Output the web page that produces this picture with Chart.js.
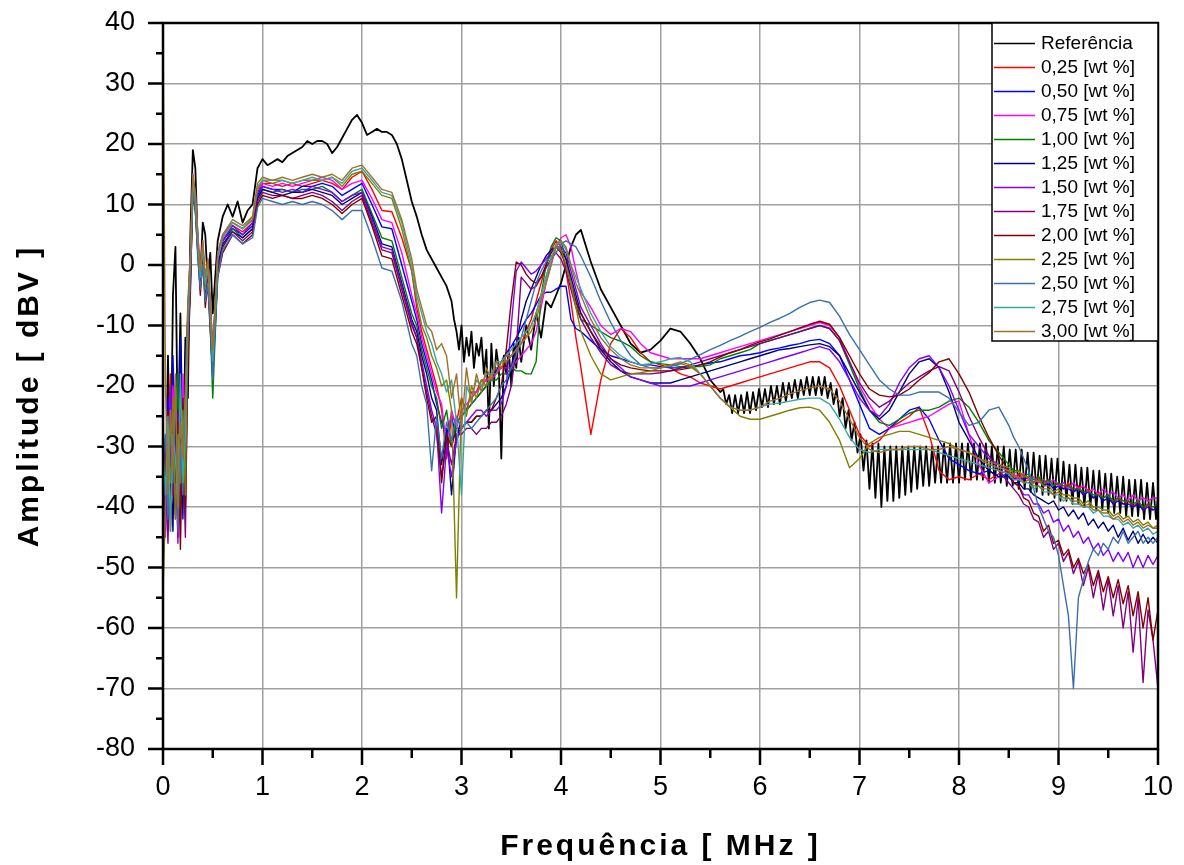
<!DOCTYPE html>
<html lang="pt">
<head>
  <meta charset="UTF-8">
  <title>Amplitude x Frequência</title>
  <script src="https://cdn.jsdelivr.net/npm/chart.js"></script>
  <style>
    body { margin: 0; background: #ffffff; }
    .chart-container { position: relative; width: 1184px; height: 865px; }
  </style>
</head>
<body>
<div class="chart-container"><canvas id="espectro"></canvas></div>
<script>
  // evenly spaced sampling frequencies (MHz)
  function seg(a, b, dx) {
    const out = [];
    for (let i = 0; a + i * dx <= b + 1e-9; i++) out.push(+(a + i * dx).toFixed(3));
    return out;
  }

  // shared frequency grid of the sample curves
  const freq = [].concat(
    seg(0, 0.5, 0.025), [0.55, 0.6, 0.7, 0.8, 0.9, 0.95, 1.0], seg(1.1, 2.5, 0.1),
    seg(2.55, 3.5, 0.05), seg(3.55, 4.2, 0.05), seg(4.3, 8.4, 0.1), seg(8.5, 10, 0.05)
  );

  // frequency grid of the reference curve
  const refFreq = [].concat(
    seg(0, 0.5, 0.025), seg(0.55, 1.0, 0.05), seg(1.05, 2.5, 0.05), seg(2.55, 2.9, 0.05),
    seg(2.925, 3.6, 0.025), seg(3.65, 4.2, 0.05), seg(4.3, 5.6, 0.1), seg(5.63, 9.98, 0.03), [10]
  );

  const refAmp = [
    -30, -40, -15, -38, -5, 3, -30, -8, -35, -12, -22, 5, 19, 16, 3, -2, 7, 5, -3, 2, -8,
    4, 8, 10, 8, 10.5, 7, 9, 10, 16, 17.5,
    16.5, 17, 17.5, 17, 18, 18.5, 19, 19.5, 20.5, 20, 20.5, 20.5, 20, 18.5, 19.5, 21, 22.5, 24, 24.8, 23.5,
    21.5, 22, 22.5, 22, 22, 21.5, 20, 17.5, 14, 10.5,
    8, 5, 2.5, 1, -0.5, -2, -3.5, -6,
    -9, -11, -14, -10, -16, -12, -15, -11, -17, -13, -15, -12, -18, -14, -27, -13, -20, -14, -17, -32,
    -15, -18, -14, -20, -13, -17, -12, -16,
    -10, -14, -8, -12, -6, -7, -5, -3, 0, 3, 5, 5.8,
    0.5, -4, -7, -10, -13, -14.5, -14, -12.5, -10.5, -11, -13, -15.5, -19, -21,
    -20.5, -23, -21.5, -24.5, -21.5, -24.5, -21.5, -24.5, -21, -24.5, -21, -24, -20.5, -23.5, -20.5, -23.5,
    -20, -23, -20, -23, -19.5, -22.5, -19.5, -22, -19, -22, -19, -21.5, -18.5, -21.5, -18.5, -21.5,
    -18.5, -21.5, -18.5, -22, -19.5, -23, -20.5, -25, -22, -27, -24, -29, -26, -31, -28, -34,
    -29, -37, -29.5, -38.5, -29.5, -40, -30, -39, -30, -39, -30, -38.5, -30, -38, -30, -37.5,
    -30, -37, -30, -36.5, -30, -36.5, -30, -36, -30, -36, -29.5, -36, -29.5, -36, -29.5, -36,
    -29.5, -35.5, -29.5, -35.5, -29.5, -35.5, -29.5, -35.5, -29.5, -36, -30, -36, -30, -36, -30, -36.5,
    -30.5, -36.5, -30.5, -37, -30.5, -37, -31, -37.5, -31, -37.5, -31.5, -38, -31.5, -38, -32, -38.5,
    -32, -39, -32.5, -39, -33, -39.5, -33, -39.5, -33.5, -40, -33.5, -40, -34, -40.5, -34, -40.5,
    -34.5, -41, -34.5, -41, -35, -41, -35, -41.5, -35.5, -41.5, -35.5, -41.5, -35.5, -42, -36, -42,
    -36, -42, -38
  ];

  const amp025 = [
    -35, -42, -28, -18, -38, -25, -45, -20, -30, -40, -10, -5, 14, 12, 4, -2, 3, -4, 1, -6, -14,
    1, 4, 6.5, 5.5, 7, 12, 13.5,
    13.5, 13, 13.5, 13, 13.5, 14, 13.5, 12.5, 14.5, 15.5, 12.5, 9, 8.8, 4.5, -1,
    -7, -11, -14, -17, -20, -24, -32, -25, -26, -22, -24, -21, -21, -19, -19, -18, -17, -17, -16, -15,
    -14, -13, -11, -9, -6, -3, 0, 2.5, 4, 3, -1, -6, -12, -17,
    -28, -19, -13, -10.5, -12, -14.5, -16, -16.5, -17, -18,
    -18.5, -19.5, -20, -20.5, -20, -19.5, -19, -18.5, -18, -17.5,
    -17, -16.5, -16, -16, -17, -20, -24, -28, -30, -29,
    -27, -26, -25, -23.5, -28, -34, -35.5, -35, -35.5, -34.5, -35.5, -34.5,
    -34, -35.5, -34.5, -35.5, -35, -36, -35, -36.5, -35.5, -36.5, -36, -37, -36, -37.5, -36.5, -38,
    -37, -38.5, -37.5, -38.5, -38, -39.5, -38.5, -39.5, -39, -40, -39, -40.5, -39.5, -40.5, -40
  ];

  const amp050 = [
    -30, -38, -22, -40, -15, -30, -42, -12, -35, -20, -8, 2, 13, 10, 3, -3, 2, -2, -1, -8, -16,
    0, 4, 6, 5, 6.5, 11.5, 13,
    12.5, 12.5, 12, 13, 13, 13.5, 13, 11.5, 12.5, 13.5, 10, 6.3, 6, 0, -6,
    -9, -13, -16, -19, -23, -26, -28, -25, -29, -25, -24, -23, -22, -21, -20, -19, -17.5, -16, -14.5, -13.5,
    -12, -10.5, -9, -8, -6.5, -5, -4.5, -4.5, -4, -3.5, -3.5, -9, -10.5, -11,
    -12.5, -14, -15, -15.5, -16, -16.5, -16.5, -16.8, -17, -17,
    -16.8, -16.5, -16.2, -16, -15.5, -15, -14.8, -14.5, -14, -13.7,
    -13.3, -13, -12.5, -12.3, -13, -15, -19, -23, -27, -28,
    -27, -25.5, -24, -23.5, -25.5, -29, -32, -33, -34, -34.5, -34, -35,
    -34.5, -35.5, -35, -35.5, -35, -36, -35.5, -36.5, -36, -37, -36.5, -37, -37, -37.5, -37, -38,
    -37.5, -38.5, -38, -39, -38.5, -39.5, -39, -39.5, -39.5, -40, -39.5, -40.5, -40, -40.5, -40
  ];

  const amp075 = [
    -32, -45, -25, -35, -20, -40, -28, -45, -18, -30, -12, 0, 15, 11, 5, -1, 4, -3, 0, -9, -18,
    2, 5, 7, 6, 7.5, 12.5, 13.5,
    13, 13.5, 13, 13.5, 14, 14.5, 14, 12.5, 13.5, 14, 11, 7.5, 7, 2, -5,
    -8, -12, -15, -18, -21, -23, -30, -24, -27, -24, -23, -22, -21, -20, -19, -19, -18, -17, -17, -17,
    -16, -15, -14, -13, -11, -7, -3, 0, 3, 4.5, 5, 3, -1, -4.5,
    -7, -10, -11.5, -10.5, -11, -13, -14.5, -15, -15.5, -15.5,
    -15.5, -15.5, -15, -14.5, -14, -13.5, -13, -12.5, -12, -11.5,
    -11, -10.5, -10, -9.5, -10, -12, -16, -20, -23, -25.5,
    -27, -26.5, -26, -25.5, -25, -24, -23, -22.5, -28, -33, -36, -35,
    -35, -34.5, -35.5, -34.5, -35.5, -35, -36, -35.5, -36, -35.5, -36.5, -36, -37, -36, -37, -36.5,
    -37.5, -37, -38, -37, -38, -37.5, -38.5, -38, -39, -38, -39, -38.5, -39, -38.5, -38.5
  ];

  const amp100 = [
    -26, -36, -30, -42, -24, -34, -18, -40, -28, -35, -6, -3, 12, 9, 2, -4, 1, -5, -2, -10, -22,
    -1, 3, 6, 4.5, 6, 11, 12.5,
    12, 12.5, 12, 12.5, 12.5, 13, 12, 10.5, 11.5, 12.5, 8.5, 4.5, 4, -2, -8,
    -10, -14, -17, -20, -22, -27, -24, -30, -26, -25, -24, -23, -22, -21, -20, -19, -19, -18, -18, -17,
    -17.5, -17.5, -18, -18, -16, -5, 0, 3, 4.5, 4, 1, -3, -6, -9,
    -10, -11, -12, -12.6, -13.5, -15, -16, -16.3, -16.5, -16.8,
    -16.8, -16.8, -16.5, -15.5, -15, -14.5, -14, -13, -12.5, -12,
    -11.5, -11, -10.5, -10, -10.5, -12.5, -16.5, -20.5, -24, -26,
    -26.5, -25.5, -24.5, -24, -24, -23.5, -22.5, -22, -23.5, -26, -29, -31,
    -33, -34, -34, -35, -34.5, -35.5, -35, -36, -35.5, -36.5, -36, -36.5, -36.5, -37, -37, -37.5,
    -37.5, -38, -38, -38.5, -38, -39, -38.5, -39, -39, -39.5, -39, -40, -39.5, -40, -39.5
  ];

  const amp125 = [
    -34, -40, -26, -32, -44, -22, -36, -25, -42, -15, -9, 1, 13, 10, 3, -2, 2, -3, -1, -7, -15,
    0, 3.5, 5.5, 4.5, 6, 11, 12.5,
    12, 11.5, 12, 12, 12.5, 12, 11.5, 10, 11, 12, 8, 3.5, 3, -3, -9,
    -11, -15, -18, -22, -24, -33, -27, -38, -28, -27, -26, -26, -25, -25, -24, -24, -23, -22, -20, -17,
    -13, -9, -6, -4, -2, 0, 1.5, 2.5, 3, 2.5, 1, -2, -5, -8,
    -11, -14, -16, -17.5, -18.5, -19, -19.5, -19.5, -19.5, -19,
    -18.5, -18, -17.5, -17, -16.5, -16, -15.5, -15, -14.5, -14,
    -13.8, -13.5, -13.2, -13, -13.5, -15, -18, -21, -24, -25.5,
    -24, -21, -18, -16, -15.5, -17, -21, -26, -29, -32, -34, -35,
    -35, -36, -36, -37, -37, -38, -38.5, -39, -39.5, -39, -40.5, -40, -41.5, -40.5, -42, -41,
    -43, -42, -43.5, -42.5, -44, -43, -45, -43.5, -45.5, -44, -46, -44.5, -46, -45, -46
  ];

  const amp150 = [
    -28, -44, -32, -20, -38, -30, -46, -22, -34, -26, -12, -1, 14, 12, 4, -3, 3, -4, 0, -8, -14,
    1, 4, 6.5, 5, 7, 12, 13,
    12.5, 12, 12.5, 12, 13, 12.5, 12, 10.5, 11.5, 12, 7.5, 3, 2.5, -3.5, -9.5,
    -12, -16, -20, -24, -27, -41, -30, -35, -29, -27, -26, -25, -24, -24, -25, -24, -24, -23, -20, -10,
    -1, 0.5, -0.5, -1.5, -1, 0, 1, 2, 3, 3, 2, -1, -4, -7,
    -10, -13, -15.5, -17, -18.5, -19, -19.5, -20, -20, -20,
    -20, -19.5, -19, -18.5, -18, -17.5, -17, -16.5, -16, -15.5,
    -15, -14.5, -14, -13.5, -14, -16, -19, -22, -24, -25,
    -23, -19.5, -17, -15.5, -15, -17, -20, -24, -28, -30, -32, -33,
    -34, -36, -36.5, -38, -38, -39.5, -39.5, -41, -40.5, -42.5, -42, -44, -43, -45, -44, -46,
    -45, -47, -46, -48, -47, -49, -47.5, -49, -47.5, -50, -48, -50, -48, -49.5, -48
  ];

  const amp175 = [
    -36, -30, -46, -28, -34, -42, -24, -38, -30, -45, -14, -2, 13, 11, 3, -3, 2, -6, -1, -9, -17,
    -1, 3, 5.5, 4, 5.5, 10.5, 12,
    11.5, 11.5, 11, 11.5, 12, 11.5, 10.5, 9, 10.5, 11.5, 7, 2.5, 2, -4, -10,
    -12, -17, -21, -25, -28, -35, -29, -33, -28, -28, -27, -27, -28, -27, -27, -26, -26, -25, -23, -20,
    -14, -2, -3, -4, -3.5, -2, -0.5, 1, 2, 1, -1, -4, -7, -9,
    -12, -14.5, -16.5, -17.5, -18, -18, -18, -17.8, -17.5, -17,
    -16.5, -16, -15.5, -15, -14.5, -14, -13.5, -13, -12.5, -12,
    -11.5, -11, -10.5, -10, -10.5, -12.5, -16, -19.5, -22, -23.5,
    -22.5, -21, -19.5, -18.5, -17.5, -16.8, -17.5, -21, -25, -28.5, -31.5, -34,
    -36, -37, -38, -39.5, -40, -42, -42.5, -45, -44, -47, -46, -49, -47.5, -51, -49, -53,
    -50, -55, -51, -57, -52, -58, -53, -60, -54, -64, -55, -69, -57, -62, -70
  ];

  const amp200 = [
    -38, -33, -24, -44, -30, -36, -26, -47, -22, -40, -16, -4, 12, 9, 2, -5, 1, -7, -3, -11, -18,
    -2, 2, 5, 3.5, 5, 10, 11.5,
    11, 11.5, 11, 11, 11.5, 11, 10, 8.5, 10, 11, 6.5, 1.5, 1, -5, -11,
    -13, -17, -22, -26, -25, -36, -28, -30, -27, -27, -26, -26, -25, -25, -24, -24, -22, -20, -14, -6,
    0.5, 0, -1.5, -2.5, -3, -2, 0, 2, 3, 2, 0, -3, -6, -8,
    -11, -13.5, -15.5, -16.5, -17, -17.3, -17.5, -17.5, -17.5, -17.3,
    -17, -16.5, -16, -15.2, -14.5, -14, -13.3, -12.7, -12.2, -11.6,
    -11, -10.4, -9.8, -9.3, -9.8, -12, -15, -18, -20.5, -21.5,
    -21.8, -21.5, -20.5, -19, -17.8, -16, -15.5, -18, -21, -25, -28.5, -31.5,
    -34, -36, -36.5, -38.5, -39, -41, -41.5, -44, -43, -46, -45.5, -48, -47, -50, -48.5, -51,
    -49.5, -53, -50.5, -54, -51.5, -55, -52, -56, -53, -58, -54, -60, -55, -62, -57
  ];

  const amp225 = [
    -54, -40, -30, -36, -22, -42, -28, -36, -24, -38, -10, 0, 13, 10, 4, -2, 3, -4, 0, -8, -15,
    1, 4.5, 7, 6, 7.5, 12.5, 14,
    13.5, 14, 13.5, 14, 14, 14, 14.5, 13, 15, 15.5, 13.5, 11.5, 11, 6, -1,
    -6, -10, -12, -15, -17, -20, -19, -24, -55, -22, -25, -20, -22, -19, -20, -18, -18, -16, -16, -15,
    -14, -13, -12, -10, -8, -5, -2, 1, 3, 2.5, 0, -3, -7, -11,
    -15, -18, -19, -18.5, -18, -17.8, -17.5, -17, -16.5, -16.3,
    -16.8, -18, -20, -22, -23.5, -25, -25.5, -25.5, -25, -24.5,
    -24, -23.6, -23.5, -24, -26, -29, -33.5, -32, -29.5, -28.5,
    -28, -27.5, -27.5, -28, -28.5, -29, -29.5, -30.5, -31, -32, -32.5, -33,
    -33.5, -34.5, -34, -35, -35, -36, -35.5, -36.5, -36.5, -37.5, -37, -38, -38, -38.5, -38.5, -39.5,
    -39, -40, -40, -40.5, -40.5, -41.5, -41, -42, -41.5, -42.5, -42, -43, -42.5, -43.5, -43
  ];

  const amp250 = [
    -32, -28, -42, -26, -36, -20, -44, -30, -38, -22, -12, -2, 12, 9, 1, -4, 0, -6, -3, -10, -19,
    -2, 2.5, 5, 3.5, 4.5, 9.5, 11,
    10.5, 10, 10.5, 10, 10.5, 10, 9, 7.5, 9, 9, 4.5, -0.5, -1, -6, -13,
    -15, -20, -23, -34, -25, -32, -26, -29, -25, -27, -26, -27, -26, -25, -24, -23, -22, -20, -19, -17,
    -15, -12, -9, -6, -3, -1, 0.5, 1.5, 2, 3.5, 4, 3.5, 3, 1.5,
    -2, -6, -9.5, -12.5, -15, -16.5, -17, -17, -16.8, -16.3,
    -15.6, -14.8, -14, -13.3, -12.5, -11.8, -11, -10.3, -9.5, -8.8,
    -8, -7, -6.2, -5.8, -6.2, -8.5, -11.5, -14, -16.5, -19,
    -20.5, -21.5, -21.5, -21, -21, -21, -22, -24.3, -26.5, -26, -24, -23.5,
    -26.5, -28.5, -30, -32, -34, -37, -40, -42, -44, -45, -48, -53, -58, -70, -55, -52,
    -49, -47, -48, -46, -47, -45, -46, -44, -46, -45, -44, -46, -45, -46, -45
  ];

  const amp275 = [
    -30, -38, -25, -44, -28, -32, -40, -18, -36, -28, -8, 1, 14, 11, 4, -2, 3, -3, 0, -7, -16,
    1, 4.5, 7, 6, 8, 13, 14,
    14, 14, 13.5, 14, 14.5, 14, 14.5, 13.5, 15.5, 16, 14, 12, 11.5, 7, 0,
    -5, -8, -11, -13, -16, -18, -21, -19, -26, -38, -20, -22, -19, -20, -18, -18, -16, -16, -15, -14,
    -13, -12, -11, -10, -8, -5, -2, 1, 3.5, 4, 2.5, 0, -2, -4,
    -8, -11, -13.5, -15, -16, -16.5, -16.3, -16, -15.5, -15.3,
    -16, -18, -20, -22, -23.5, -24, -24, -23.5, -23, -22.8,
    -22.5, -22.2, -22, -22, -23, -25.5, -28.5, -30.5, -31, -30.5,
    -30.5, -30.5, -30.5, -30.5, -30.5, -31, -31.5, -32, -32.5, -33, -33.5, -34,
    -34.5, -35.5, -35.5, -36, -36, -37, -36.5, -37.5, -37.5, -38, -38, -39, -38.5, -39.5, -39.5, -40,
    -40, -41, -40.5, -41.5, -41.5, -42, -42, -43, -42.5, -43.5, -43, -44, -43.5, -44.5, -44
  ];

  const amp300 = [
    40, -20, -38, -24, -34, -18, -40, -26, -32, -20, -6, 2, 15, 12, 5, -1, 4, -2, 1, -6, -14,
    2, 5, 7.5, 6.5, 8, 13.5, 14.5,
    14, 14.5, 14, 14.5, 15, 14.5, 15, 14, 16, 16.5, 14.5, 12.5, 12, 7.5, 1,
    -4, -7, -10, -11, -14, -13, -15, -22, -18, -27, -17, -23, -18, -21, -17, -19, -16, -17, -15, -15,
    -14, -13, -12, -11, -9, -6, -3, 0, 3, 4, 3, 0, -3, -5,
    -9, -12, -14, -15.5, -16.5, -17, -17, -17, -16.5, -16,
    -16.5, -18, -20, -22, -23.5, -24, -24, -23.5, -22.5, -22,
    -21.3, -20.8, -20.3, -20, -20.5, -22.5, -25.5, -28.5, -30.5, -31,
    -30.5, -30.5, -30, -30, -30.5, -30.5, -30, -30.5, -31, -32, -33, -33.5,
    -34, -35, -35, -36, -35.5, -36.5, -36.5, -37, -37, -38, -37.5, -38.5, -38.5, -39, -39, -40,
    -39.5, -40.5, -40.5, -41, -41, -42, -41.5, -42.5, -42, -43, -42.5, -43.5, -43, -43.5, -43.5
  ];

  const seriesLabels = ['Referência', '0,25 [wt %]', '0,50 [wt %]', '0,75 [wt %]', '1,00 [wt %]',
    '1,25 [wt %]', '1,50 [wt %]', '1,75 [wt %]', '2,00 [wt %]', '2,25 [wt %]', '2,50 [wt %]',
    '2,75 [wt %]', '3,00 [wt %]'];
  const seriesColors = ['#000000', '#ff0000', '#0000ff', '#ff00ff', '#008000', '#000080', '#8000ff',
    '#800080', '#800000', '#808000', '#3a6fb0', '#3aa6a0', '#a0702a'];
  const samples = [amp025, amp050, amp075, amp100, amp125, amp150, amp175, amp200, amp225,
    amp250, amp275, amp300];

  const yTicks = { min: -80, max: 40, step: 10 };
  const xTicks = { min: 0, max: 10, step: 1 };

  samples.forEach((s, k) => {
    if (s.length !== freq.length) console.error(seriesLabels[k + 1], s.length, freq.length);
  });
  if (refAmp.length !== refFreq.length) console.error('ref', refAmp.length, refFreq.length);

  const datasets = [{
    label: seriesLabels[0],
    data: refFreq.map((f, i) => ({ x: f, y: refAmp[i] })),
    borderColor: seriesColors[0],
    borderWidth: 1.8,
    order: samples.length
  }].concat(samples.map((s, k) => ({
    label: seriesLabels[k + 1],
    data: freq.map((f, i) => ({ x: f, y: s[i] })),
    borderColor: seriesColors[k + 1],
    borderWidth: 1.4,
    order: samples.length - 1 - k
  })));

  // box, tick marks, axis titles and the legend, drawn like the original plot
  const framePlugin = {
    id: 'frame',
    afterDraw(chart) {
      const { ctx, chartArea: a, scales: { x, y } } = chart;
      ctx.save();
      ctx.strokeStyle = '#000';
      ctx.lineWidth = 2.5;
      ctx.beginPath();
      for (let v = yTicks.min; v <= yTicks.max; v += 5) {
        const py = y.getPixelForValue(v);
        const len = v % 10 === 0 ? 15 : 7;
        ctx.moveTo(a.left - len, py);
        ctx.lineTo(a.left, py);
      }
      for (let v = xTicks.min; v <= xTicks.max; v += 0.5) {
        const px = x.getPixelForValue(v);
        const len = Number.isInteger(v) ? 16 : 9;
        ctx.moveTo(px, a.bottom);
        ctx.lineTo(px, a.bottom + len);
      }
      ctx.stroke();
      ctx.strokeRect(a.left, a.top, a.right - a.left, a.bottom - a.top);

      // legend box in the top right corner
      const lg = { left: a.right - 166, top: a.top, width: 166, height: 318 };
      ctx.fillStyle = '#fff';
      ctx.fillRect(lg.left, lg.top, lg.width, lg.height);
      ctx.lineWidth = 1.5;
      ctx.strokeStyle = '#000';
      ctx.strokeRect(lg.left, lg.top, lg.width, lg.height);
      ctx.font = '19px "Liberation Sans", Arial, sans-serif';
      ctx.textAlign = 'left';
      ctx.textBaseline = 'middle';
      chart.data.datasets.forEach((ds, i) => {
        const cy = lg.top + 20.5 + 24 * i;
        ctx.strokeStyle = ds.borderColor;
        ctx.lineWidth = 1.5;
        ctx.beginPath();
        ctx.moveTo(lg.left + 2, cy);
        ctx.lineTo(lg.left + 43, cy);
        ctx.stroke();
        ctx.fillStyle = '#000';
        ctx.fillText(ds.label, lg.left + 49, cy);
      });

      // axis titles
      ctx.fillStyle = '#000';
      ctx.font = 'bold 30px "Liberation Sans", Arial, sans-serif';
      ctx.letterSpacing = '3px';
      ctx.textAlign = 'center';
      ctx.textBaseline = 'alphabetic';
      ctx.fillText('Frequência [ MHz ]', (a.left + a.right) / 2, 855);
      ctx.translate(38, 396);
      ctx.rotate(-Math.PI / 2);
      ctx.fillText('Amplitude [ dBV ]', 0, 0);
      ctx.restore();
    }
  };

  const tickFont = { family: '"Liberation Sans", Arial, sans-serif', size: 27 };

  new Chart(document.getElementById('espectro'), {
    type: 'line',
    data: { datasets },
    options: {
      responsive: true,
      maintainAspectRatio: false,
      animation: false,
      layout: { padding: { left: 0, right: 26, top: 23, bottom: 0 } },
      elements: {
        point: { radius: 0 },
        line: { tension: 0, borderJoinStyle: 'round' }
      },
      plugins: { legend: { display: false }, tooltip: { enabled: false } },
      scales: {
        x: {
          type: 'linear',
          min: xTicks.min,
          max: xTicks.max,
          ticks: { stepSize: xTicks.step, autoSkip: false, color: '#000', font: tickFont, padding: 22, maxRotation: 0 },
          grid: { color: '#a0a0a0', lineWidth: 1.5, drawTicks: false },
          border: { display: false },
          afterFit(scale) {
            scale.height = 116;
            scale.paddingLeft = 0;
            scale.paddingRight = 0;
          }
        },
        y: {
          min: yTicks.min,
          max: yTicks.max,
          ticks: { stepSize: yTicks.step, autoSkip: false, color: '#000', font: tickFont, padding: 28 },
          grid: { color: '#a0a0a0', lineWidth: 1.5, drawTicks: false },
          border: { display: false },
          afterFit(scale) {
            scale.width = 163;
            scale.paddingTop = 0;
            scale.paddingBottom = 0;
          }
        }
      }
    },
    plugins: [framePlugin]
  });
</script>
</body>
</html>
